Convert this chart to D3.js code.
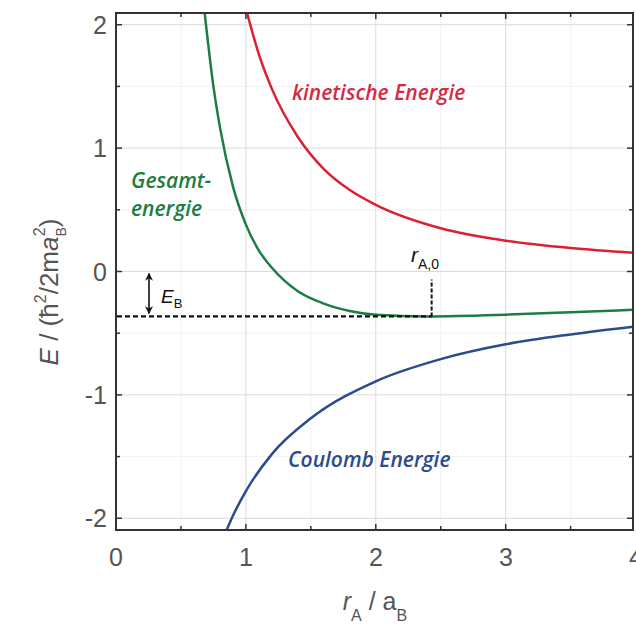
<!DOCTYPE html>
<html>
<head>
<meta charset="utf-8">
<script src="https://cdnjs.cloudflare.com/ajax/libs/d3/7.8.5/d3.min.js"></script>
<style>
  body { margin: 0; background: #fff; }
  svg { display: block; }
</style>
</head>
<body>
<div id="chart"></div>
<script>
// values (r in a_B, E in hbar^2/2ma_B^2)
const kineticR = [1.0, 1.1, 1.2, 1.4, 1.6, 1.8, 2.0, 2.5, 3.0, 3.5, 4.0];
const kineticE = [2.13, 1.76, 1.48, 1.09, 0.83, 0.66, 0.54, 0.35, 0.25, 0.19, 0.15];

const coulombR = [0.85, 0.9, 1.0, 1.2, 1.5, 2.0, 2.5, 3.0, 3.5, 4.0];
const coulombE = [-2.1, -1.98, -1.78, -1.48, -1.19, -0.89, -0.71, -0.59, -0.51, -0.445];

const totalR = [0.68, 0.75, 0.8, 0.9, 1.0, 1.1, 1.2, 1.4, 1.6, 1.8, 2.0, 2.4, 3.0, 3.5, 4.0];
const totalE = [2.12, 1.5, 1.17, 0.69, 0.38, 0.17, 0.03, -0.16, -0.26, -0.32, -0.35, -0.364, -0.35, -0.33, -0.31];

const bindingE = -0.364;   // E_B level
const radius0 = 2.43;      // r_A,0
const xTicks = [0, 1, 2, 3, 4];
const yTicks = [-2, -1, 0, 1, 2];

const W = 636, H = 627;
const svg = d3.select('#chart').append('svg')
  .attr('width', W).attr('height', H)
  .style('font-family', '"Liberation Sans", Arial, sans-serif');

const x = d3.scaleLinear().domain([0, 3.98]).range([116, 633]);
const y = d3.scaleLinear().domain([-2.095, 2.095]).range([530, 13]);
const [x0, x1] = x.range();
const [y0, y1] = y.range();

svg.append('defs').append('clipPath').attr('id', 'plot')
  .append('rect').attr('x', x0).attr('y', y1).attr('width', x1 - x0).attr('height', y0 - y1);

// grid
const minorX = d3.range(0.5, 4, 1), minorY = d3.range(-1.5, 2, 1);
const grid = svg.append('g');
grid.selectAll('.gxm').data(minorX).join('line')
  .attr('x1', d => x(d)).attr('x2', d => x(d)).attr('y1', y1).attr('y2', y0)
  .attr('stroke', '#f1f1f1');
grid.selectAll('.gym').data(minorY).join('line')
  .attr('y1', d => y(d)).attr('y2', d => y(d)).attr('x1', x0).attr('x2', x1)
  .attr('stroke', '#f1f1f1');
grid.selectAll('.gx').data(xTicks.filter(d => d > 0 && d < 4)).join('line')
  .attr('x1', d => x(d)).attr('x2', d => x(d)).attr('y1', y1).attr('y2', y0)
  .attr('stroke', '#d9d9d9');
grid.selectAll('.gy').data(yTicks).join('line')
  .attr('y1', d => y(d)).attr('y2', d => y(d)).attr('x1', x0).attr('x2', x1)
  .attr('stroke', '#d9d9d9');

// curves
const line = d3.line().x(d => x(d[0])).y(d => y(d[1])).curve(d3.curveMonotoneX);
const curves = svg.append('g').attr('clip-path', 'url(#plot)');
const series = [
  { r: kineticR, e: kineticE, color: '#dd1f35' },
  { r: totalR, e: totalE, color: '#1d7d42' },
  { r: coulombR, e: coulombE, color: '#2b4b8e' }
];
series.forEach(s => {
  curves.append('path')
    .datum(s.r.map((r, i) => [r, s.e[i]]))
    .attr('d', line)
    .attr('fill', 'none')
    .attr('stroke', s.color)
    .attr('stroke-width', 2.5);
});

// binding energy markers
svg.append('line')
  .attr('x1', x0 + 1).attr('x2', x(radius0))
  .attr('y1', y(bindingE)).attr('y2', y(bindingE))
  .attr('stroke', '#111').attr('stroke-width', 2.2).attr('stroke-dasharray', '5,3');
svg.append('line')
  .attr('x1', x(radius0)).attr('x2', x(radius0))
  .attr('y1', y(bindingE)).attr('y2', y(-0.065))
  .attr('stroke', '#111').attr('stroke-width', 2).attr('stroke-dasharray', '4,2');

const defs = svg.select('defs');
defs.append('marker').attr('id', 'ah').attr('viewBox', '0 0 10 10')
  .attr('refX', 9).attr('refY', 5).attr('markerWidth', 5).attr('markerHeight', 5)
  .attr('orient', 'auto-start-reverse')
  .append('path').attr('d', 'M0,0 L10,5 L0,10 L3,5 Z').attr('fill', '#111');
svg.append('line')
  .attr('x1', 149).attr('x2', 149)
  .attr('y1', y(0) + 2).attr('y2', y(bindingE) - 3)
  .attr('stroke', '#111').attr('stroke-width', 1.6)
  .attr('marker-start', 'url(#ah)').attr('marker-end', 'url(#ah)');

// frame and ticks (inward, all four sides)
svg.append('rect')
  .attr('x', x0).attr('y', y1).attr('width', x1 - x0).attr('height', y0 - y1)
  .attr('fill', 'none').attr('stroke', '#333').attr('stroke-width', 2);

const tk = svg.append('g').attr('stroke', '#333').attr('stroke-width', 1.5);
const allX = d3.range(0.5, 4, 0.5), allY = d3.range(-2, 2.01, 0.5);
allX.forEach(v => {
  const len = Number.isInteger(v) ? 6 : 4;
  tk.append('line').attr('x1', x(v)).attr('x2', x(v)).attr('y1', y0).attr('y2', y0 - len);
  tk.append('line').attr('x1', x(v)).attr('x2', x(v)).attr('y1', y1).attr('y2', y1 + len);
});
allY.forEach(v => {
  const len = Number.isInteger(v) ? 6 : 4;
  tk.append('line').attr('y1', y(v)).attr('y2', y(v)).attr('x1', x0).attr('x2', x0 + len);
  tk.append('line').attr('y1', y(v)).attr('y2', y(v)).attr('x1', x1).attr('x2', x1 - len);
});

// tick labels
svg.selectAll('.xl').data(xTicks).join('text')
  .attr('x', d => 116 + d * 130).attr('y', 566)
  .attr('text-anchor', 'middle').attr('font-size', 25).attr('fill', '#555')
  .text(d => d);
svg.selectAll('.yl').data(yTicks).join('text')
  .attr('x', 107).attr('y', d => y(d)).attr('dy', '0.36em')
  .attr('text-anchor', 'end').attr('font-size', 25).attr('fill', '#555')
  .text(d => d);

// axis titles
const xt = svg.append('text').attr('x', 375).attr('y', 610)
  .attr('text-anchor', 'middle').attr('font-size', 25).attr('fill', '#555');
xt.append('tspan').attr('font-style', 'italic').text('r');
xt.append('tspan').attr('font-size', 16).attr('dy', 11).text('A');
xt.append('tspan').attr('dy', -11).text(' / a');
xt.append('tspan').attr('font-size', 16).attr('dy', 11).text('B');

const yt = svg.append('text')
  .attr('transform', 'translate(58,292) rotate(-90)')
  .attr('text-anchor', 'middle').attr('font-size', 26).attr('fill', '#555');
yt.append('tspan').attr('font-style', 'italic').text('E');
yt.append('tspan').text(' / (ħ');
yt.append('tspan').attr('font-size', 16).attr('dy', -12).text('2');
yt.append('tspan').attr('dy', 12).text('/2m');
yt.append('tspan').attr('font-style', 'italic').text('a');
yt.append('tspan').attr('font-size', 14).attr('dy', 8).text('B');
yt.append('tspan').attr('font-size', 16).attr('dx', -9).attr('dy', -21).text('2');
yt.append('tspan').attr('dy', 13).text(')');

// curve labels
const lab = svg.append('g')
  .style('font-family', '"Open Sans", sans-serif')
  .attr('font-style', 'italic').attr('font-weight', 600).attr('font-size', 21);
lab.append('text').attr('x', 292).attr('y', 100).attr('fill', '#d42a45').text('kinetische Energie');
lab.append('text').attr('x', 131).attr('y', 188).attr('fill', '#1d7d42').text('Gesamt-');
lab.append('text').attr('x', 131).attr('y', 216).attr('fill', '#1d7d42').text('energie');
lab.append('text').attr('x', 288).attr('y', 467).attr('fill', '#2b4b8e').text('Coulomb Energie');

// E_B and r_A,0 labels
const eb = svg.append('text').attr('x', 161).attr('y', 303).attr('font-size', 19).attr('fill', '#111');
eb.append('tspan').attr('font-style', 'italic').text('E');
eb.append('tspan').attr('font-size', 13).attr('dy', 5).text('B');

const ra = svg.append('text').attr('x', 411).attr('y', 262).attr('font-size', 21).attr('fill', '#111');
ra.append('tspan').attr('font-style', 'italic').text('r');
ra.append('tspan').attr('font-size', 14).attr('dy', 7).text('A,0');
</script>
</body>
</html>
